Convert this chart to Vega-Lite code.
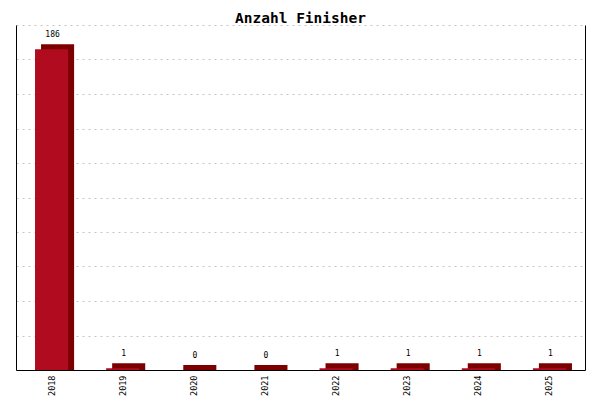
{
  "$schema": "https://vega.github.io/schema/vega-lite/v6.json",
  "autosize": {"type": "none"},
  "padding": {"left": 16, "top": 25, "right": 15, "bottom": 30},
  "width": 569,
  "height": 345,
  "background": "white",
  "title": {"text": "Anzahl Finisher", "font": "DejaVu Sans Mono", "fontSize": 14.5, "fontWeight": "bold", "color": "black", "offset": 7, "dy": 8, "anchor": "middle"},
  "data": {"values": [
    {"year": "2018", "finisher": 186},
    {"year": "2019", "finisher": 1},
    {"year": "2020", "finisher": 0},
    {"year": "2021", "finisher": 0},
    {"year": "2022", "finisher": 1},
    {"year": "2023", "finisher": 1},
    {"year": "2024", "finisher": 1},
    {"year": "2025", "finisher": 1}
  ]},
  "config": {"view": {"stroke": null}},
  "encoding": {
    "x": {"field": "year", "type": "ordinal", "scale": {"paddingInner": 0.535, "paddingOuter": 0.2675},
      "axis": {"title": null, "labelAngle": -90, "labelFont": "DejaVu Sans Mono", "labelFontSize": 8.5, "labelColor": "black", "ticks": false, "labelPadding": 5, "domainColor": "black", "domainWidth": 1}}
  },
  "layer": [
    {
      "mark": {"type": "bar", "color": "#7d0000", "xOffset": 6, "yOffset": -5, "y2Offset": 0},
      "encoding": {
        "y": {"field": "finisher", "type": "quantitative", "scale": {"domain": [0, 200], "nice": false},
          "axis": {"title": null, "labels": false, "ticks": false, "tickCount": 10, "grid": true, "gridColor": "#c4c4c4", "gridDash": [2, 4], "domainColor": "black", "domainWidth": 1}},
        "y2": {"datum": 0}
      }
    },
    {
      "mark": {"type": "bar", "color": "#b00b1e"},
      "encoding": {
        "y": {"field": "finisher", "type": "quantitative", "axis": null}
      }
    },
    {
      "mark": {"type": "text", "font": "DejaVu Sans Mono", "fontSize": 8, "color": "black", "baseline": "alphabetic", "dy": -12, "dx": 1},
      "encoding": {
        "y": {"field": "finisher", "type": "quantitative", "axis": null},
        "text": {"field": "finisher", "type": "quantitative"}
      }
    },
    {
      "mark": {"type": "rule", "opacity": 0},
      "encoding": {
        "y": {"field": "finisher", "type": "quantitative", "axis": {"orient": "right", "title": null, "labels": false, "ticks": false, "grid": false, "domainColor": "black", "domainWidth": 1}}
      }
    }
  ],
  "resolve": {"axis": {"y": "independent"}}
}
